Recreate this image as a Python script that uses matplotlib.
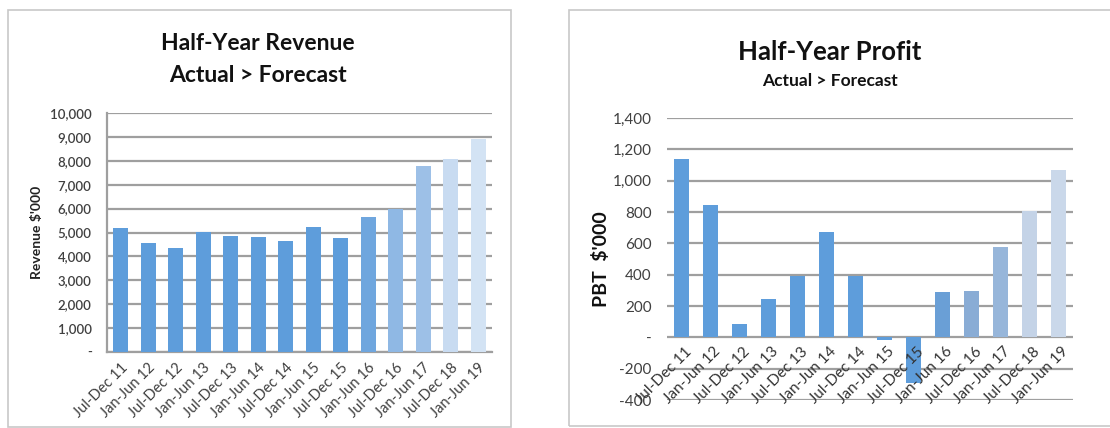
import matplotlib.pyplot as plt
from matplotlib.patches import Rectangle
from matplotlib.transforms import ScaledTranslation

plt.rcParams['font.family'] = ['Lato', 'DejaVu Sans']

periods = ['Jul-Dec 11', 'Jan-Jun 12', 'Jul-Dec 12', 'Jan-Jun 13', 'Jul-Dec 13',
           'Jan-Jun 14', 'Jul-Dec 14', 'Jan-Jun 15', 'Jul-Dec 15', 'Jan-Jun 16',
           'Jul-Dec 16', 'Jan-Jun 17', 'Jul-Dec 18', 'Jan-Jun 19']
revenue = [5200, 4580, 4350, 5040, 4850, 4820, 4660, 5230, 4760, 5660, 5970, 7780, 8080, 8900]
profit = [1140, 845, 87, 247, 392, 674, 392, -15, -290, 292, 296, 574, 804, 1066]

rev_colors = ['#5e9ddb'] * 9 + ['#6fa6de', '#8fb8e4', '#9dc0e7', '#c8dbf1', '#d3e3f4']
pbt_colors = ['#5e9ddb'] * 9 + ['#6a9fd6', '#89acd5', '#97b6da', '#c4d3e7', '#cad8ea']

W, H = 1110, 428
fig = plt.figure(figsize=(W / 100, H / 100), dpi=100)

def px_axes(x0, y0, x1, y1):
    # pixel box (top-left origin) -> figure fraction axes
    return fig.add_axes([x0 / W, 1 - y1 / H, (x1 - x0) / W, (y1 - y0) / H])

# panel borders
for x0, y0, x1, y1 in [(8, 10, 511, 427), (569, 10, 1115, 426)]:
    fig.patches.append(Rectangle((x0 / W, 1 - y1 / H), (x1 - x0) / W, (y1 - y0) / H,
                                 transform=fig.transFigure, fill=False,
                                 edgecolor='#c8c8c8', linewidth=1.2))

grid_kw = dict(color='#9f9f9f', linewidth=1.6)
x = range(len(periods))

# ---- Revenue ----
ax1 = px_axes(107, 113, 492, 352)
ax1.bar(x, revenue, width=0.55, color=rev_colors, zorder=3)
ax1.set_xlim(-0.5, 13.5)
ax1.set_ylim(0, 10000)
ticks = list(range(0, 10001, 1000))
ax1.set_yticks(ticks)
ax1.set_yticklabels(['-'] + [f'{t:,}' for t in ticks[1:]], fontsize=9.5,
                    color='#404040', fontweight='semibold')
ax1.yaxis.grid(True, zorder=0, **grid_kw)
ax1.tick_params(length=0, pad=11)
for s in ['top', 'right']:
    ax1.spines[s].set_visible(False)
for s in ['left', 'bottom']:
    ax1.spines[s].set_color('#9f9f9f')
    ax1.spines[s].set_linewidth(1.6)
ax1.set_xticks(list(x))
ax1.set_xticklabels(periods, rotation=45, ha='right', rotation_mode='anchor',
                    fontsize=10.5, color='#404040')
off = ScaledTranslation(13 / 100, -4 / 100, fig.dpi_scale_trans)
for lab in ax1.get_xticklabels():
    lab.set_transform(lab.get_transform() + off)
ax1.tick_params(axis='x', pad=6)
ax1.set_ylabel("Revenue $'000", fontsize=10, fontweight='bold', color='#222222')
ax1.yaxis.set_label_coords(-0.165, 0.5)
fig.text(258 / W, 1 - 43 / H, 'Half-Year Revenue', ha='center', va='center',
         fontsize=16.5, fontweight='bold', color='#111111')
fig.text(258 / W, 1 - 75 / H, 'Actual > Forecast', ha='center', va='center',
         fontsize=16.5, fontweight='bold', color='#111111')

# ---- Profit ----
ax2 = px_axes(667, 118, 1073, 400)
ax2.bar(x, profit, width=0.55, color=pbt_colors, zorder=3)
ax2.set_xlim(-0.5, 13.5)
ax2.set_ylim(-400, 1400)
pticks = list(range(-400, 1401, 200))
ax2.set_yticks(pticks)
ax2.set_yticklabels([f'{t:,}' if t != 0 else '-' for t in pticks], fontsize=11,
                    color='#404040')
ax2.yaxis.grid(True, zorder=0, **grid_kw)
ax2.tick_params(length=0, pad=11)
for s in ax2.spines.values():
    s.set_visible(False)
ax2.set_xticks([])
off2 = ScaledTranslation(3 / 100, -7 / 100, fig.dpi_scale_trans)
for i, p in enumerate(periods):
    ax2.text(i, 0, p, rotation=45, ha='right', va='top', rotation_mode='anchor',
             fontsize=11, color='#333333', zorder=5,
             transform=ax2.transData + off2)
ax2.set_ylabel("PBT  $'000", fontsize=14, fontweight='bold', color='#111111')
ax2.yaxis.set_label_coords(-0.14, 0.5)
fig.text(830 / W, 1 - 52 / H, 'Half-Year Profit', ha='center', va='center',
         fontsize=18.5, fontweight='bold', color='#111111')
fig.text(830 / W, 1 - 81 / H, 'Actual > Forecast', ha='center', va='center',
         fontsize=12.5, fontweight='bold', color='#111111')

fig.savefig('out.png', dpi=100)
